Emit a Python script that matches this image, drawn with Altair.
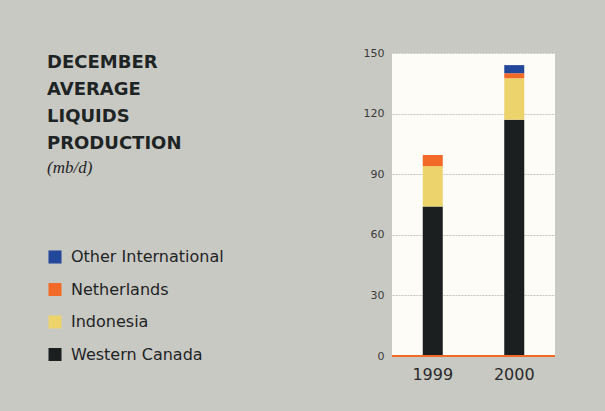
import altair as alt
import pandas as pd

years = ["1999", "2000"]
western_canada = [74, 117]
indonesia = [20, 20.5]
netherlands = [5.5, 2.5]
other_international = [0, 4]

series_names = ["Western Canada", "Indonesia", "Netherlands", "Other International"]
series_values = [western_canada, indonesia, netherlands, other_international]
legend_order = ["Other International", "Netherlands", "Indonesia", "Western Canada"]
colors = ["#23479b", "#f26a28", "#ecd36c", "#1b1f1f"]
y_ticks = [0, 30, 60, 90, 120, 150]

title_lines = ["DECEMBER", "AVERAGE", "LIQUIDS", "PRODUCTION"]
unit_label = "(mb/d)"

rows = []
for rank, (name, vals) in enumerate(zip(series_names, series_values)):
    for yr, v in zip(years, vals):
        rows.append({"year": yr, "region": name, "value": v, "rank": rank})
df = pd.DataFrame(rows)

bars = alt.Chart(df).mark_bar(size=20).encode(
    x=alt.X("year:N", title=None, sort=years,
            scale=alt.Scale(paddingInner=0, paddingOuter=0),
            axis=alt.Axis(labelAngle=0, domain=False, ticks=False, labelPadding=10,
                          labelFontSize=16, labelFont="DejaVu Sans", labelColor="#2a2a2a",
                          grid=False)),
    y=alt.Y("value:Q", stack="zero", title=None,
            scale=alt.Scale(domain=[0, 150], nice=False),
            axis=alt.Axis(values=y_ticks, domain=False, ticks=False, labelPadding=8,
                          labelFontSize=11, labelFont="DejaVu Sans", labelColor="#3a3a3a",
                          grid=True, gridColor="#c4c4bc", gridWidth=1, gridDash=[2, 1])),
    color=alt.Color("region:N", sort=legend_order,
                    scale=alt.Scale(domain=legend_order, range=colors),
                    legend=alt.Legend(title=None, orient="none", legendX=-345, legendY=196,
                                      symbolType="square", symbolSize=170, symbolStrokeWidth=0,
                                      labelFontSize=16, labelFont="DejaVu Sans", labelFontWeight="normal",
                                      labelColor="#1e2424", labelOffset=8, rowPadding=16.5,
                                      symbolOpacity=1)),
    order=alt.Order("rank:Q", sort="ascending"),
)

baseline = alt.Chart(alt.Data(values=[{"z": 0}])).mark_rule(color="#f26a28", strokeWidth=2).encode(
    y=alt.Y("z:Q")
)

title_df = pd.DataFrame({"t": ["\n".join(title_lines)]})
title = alt.Chart(title_df).mark_text(
    align="left", baseline="alphabetic", lineBreak="\n", lineHeight=27,
    font="DejaVu Sans", fontWeight="bold", fontSize=18, color="#1e2424"
).encode(text="t:N", x=alt.value(-345), y=alt.value(15))

unit_df = pd.DataFrame({"t": [unit_label]})
unit = alt.Chart(unit_df).mark_text(
    align="left", baseline="alphabetic", font="Liberation Serif", fontStyle="italic",
    fontSize=17, color="#1e2424"
).encode(text="t:N", x=alt.value(-345), y=alt.value(120))

chart = alt.layer(bars, baseline, title, unit).properties(
    width=163, height=303,
    autosize=alt.AutoSizeParams(type="none"),
    padding={"left": 392, "top": 53, "right": 50, "bottom": 55},
).configure(background="#c9c9c4").configure_view(fill="#fdfcf6", stroke=None)

chart.save("out.html", embed_options={"renderer": "svg", "actions": False})
